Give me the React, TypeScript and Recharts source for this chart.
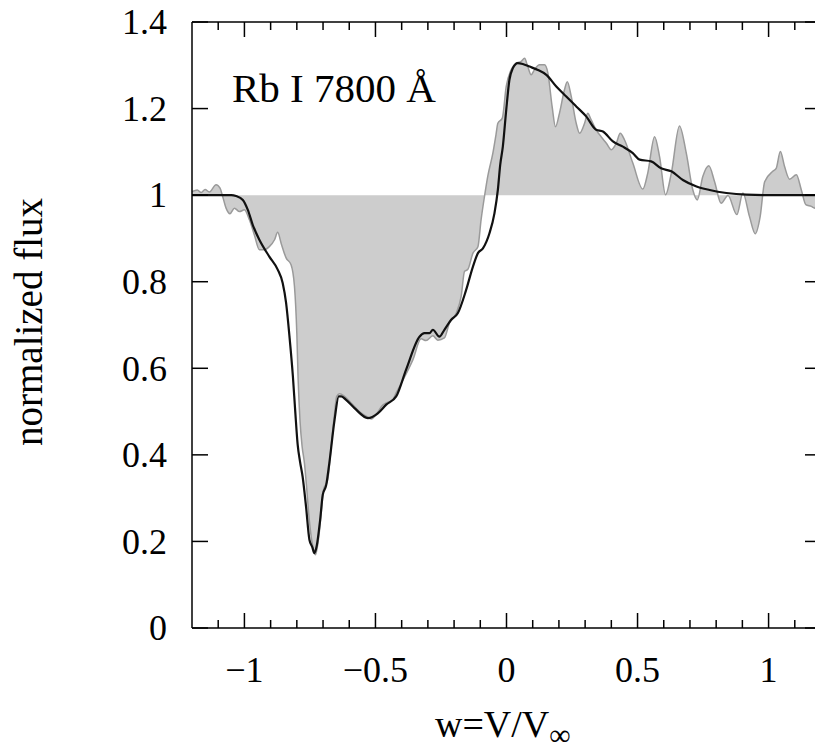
import { ComposedChart, Area, Line, XAxis, YAxis } from 'recharts';

// observed Rb I 7800 profile (w, normalized flux)
const observed = [
  { w: -1.2, f: 1.008 }, { w: -1.18, f: 1.012 }, { w: -1.165, f: 1.006 }, { w: -1.15, f: 1.013 },
  { w: -1.134, f: 1.007 }, { w: -1.108, f: 1.024 }, { w: -1.093, f: 1.016 }, { w: -1.083, f: 0.997 },
  { w: -1.07, f: 0.97 }, { w: -1.055, f: 0.957 }, { w: -1.038, f: 0.97 }, { w: -1.019, f: 0.962 },
  { w: -1.0, f: 0.966 }, { w: -0.981, f: 0.943 }, { w: -0.962, f: 0.908 }, { w: -0.943, f: 0.874 },
  { w: -0.924, f: 0.874 }, { w: -0.905, f: 0.881 }, { w: -0.885, f: 0.897 }, { w: -0.873, f: 0.914 },
  { w: -0.86, f: 0.889 }, { w: -0.841, f: 0.855 }, { w: -0.822, f: 0.839 }, { w: -0.809, f: 0.789 },
  { w: -0.8, f: 0.68 }, { w: -0.795, f: 0.574 }, { w: -0.788, f: 0.48 }, { w: -0.78, f: 0.42 },
  { w: -0.771, f: 0.381 }, { w: -0.762, f: 0.32 }, { w: -0.755, f: 0.266 }, { w: -0.745, f: 0.21 },
  { w: -0.739, f: 0.188 }, { w: -0.729, f: 0.169 }, { w: -0.716, f: 0.212 }, { w: -0.707, f: 0.266 },
  { w: -0.698, f: 0.319 }, { w: -0.682, f: 0.343 }, { w: -0.669, f: 0.419 }, { w: -0.656, f: 0.496 },
  { w: -0.648, f: 0.535 }, { w: -0.637, f: 0.541 }, { w: -0.618, f: 0.535 }, { w: -0.593, f: 0.52 },
  { w: -0.561, f: 0.5 }, { w: -0.529, f: 0.487 }, { w: -0.515, f: 0.483 }, { w: -0.497, f: 0.494 },
  { w: -0.472, f: 0.515 }, { w: -0.459, f: 0.52 }, { w: -0.434, f: 0.527 }, { w: -0.421, f: 0.543 },
  { w: -0.395, f: 0.573 }, { w: -0.357, f: 0.62 }, { w: -0.326, f: 0.668 }, { w: -0.307, f: 0.664 },
  { w: -0.281, f: 0.675 }, { w: -0.262, f: 0.665 }, { w: -0.237, f: 0.67 }, { w: -0.218, f: 0.704 },
  { w: -0.192, f: 0.727 }, { w: -0.173, f: 0.766 }, { w: -0.16, f: 0.824 }, { w: -0.148, f: 0.828 },
  { w: -0.128, f: 0.866 }, { w: -0.109, f: 0.881 }, { w: -0.097, f: 0.943 }, { w: -0.084, f: 0.997 },
  { w: -0.071, f: 1.045 }, { w: -0.052, f: 1.097 }, { w: -0.04, f: 1.14 }, { w: -0.033, f: 1.166 },
  { w: -0.016, f: 1.178 }, { w: -0.001, f: 1.251 }, { w: 0.018, f: 1.29 }, { w: 0.037, f: 1.305 },
  { w: 0.056, f: 1.309 }, { w: 0.069, f: 1.316 }, { w: 0.081, f: 1.297 }, { w: 0.094, f: 1.278 },
  { w: 0.107, f: 1.29 }, { w: 0.126, f: 1.301 }, { w: 0.145, f: 1.301 }, { w: 0.158, f: 1.282 },
  { w: 0.174, f: 1.205 }, { w: 0.187, f: 1.158 }, { w: 0.202, f: 1.189 }, { w: 0.221, f: 1.243 },
  { w: 0.232, f: 1.262 }, { w: 0.247, f: 1.228 }, { w: 0.266, f: 1.166 }, { w: 0.279, f: 1.143 },
  { w: 0.298, f: 1.166 }, { w: 0.31, f: 1.189 }, { w: 0.323, f: 1.174 }, { w: 0.342, f: 1.151 },
  { w: 0.361, f: 1.135 }, { w: 0.381, f: 1.12 }, { w: 0.4, f: 1.105 }, { w: 0.419, f: 1.12 },
  { w: 0.434, f: 1.143 }, { w: 0.45, f: 1.128 }, { w: 0.482, f: 1.074 }, { w: 0.52, f: 1.014 },
  { w: 0.539, f: 1.051 }, { w: 0.565, f: 1.135 }, { w: 0.584, f: 1.089 }, { w: 0.607, f: 1.001 },
  { w: 0.629, f: 1.051 }, { w: 0.66, f: 1.16 }, { w: 0.686, f: 1.097 }, { w: 0.711, f: 1.012 },
  { w: 0.728, f: 0.989 }, { w: 0.749, f: 1.043 }, { w: 0.772, f: 1.068 }, { w: 0.794, f: 1.031 },
  { w: 0.819, f: 0.981 }, { w: 0.845, f: 0.999 }, { w: 0.879, f: 0.955 }, { w: 0.902, f: 1.005 },
  { w: 0.927, f: 0.951 }, { w: 0.949, f: 0.911 }, { w: 0.968, f: 0.951 }, { w: 0.985, f: 1.031 },
  { w: 1.016, f: 1.055 }, { w: 1.029, f: 1.062 }, { w: 1.045, f: 1.101 }, { w: 1.061, f: 1.066 },
  { w: 1.08, f: 1.037 }, { w: 1.106, f: 1.047 }, { w: 1.125, f: 1.012 }, { w: 1.142, f: 0.978 },
  { w: 1.163, f: 0.974 }, { w: 1.176, f: 0.97 }, { w: 1.189, f: 0.989 }, { w: 1.2, f: 0.966 },
];

// model fit
const model = [
  { w: -1.2, f: 1.0 }, { w: -1.05, f: 1.0 }, { w: -1.032, f: 0.998 }, { w: -1.006, f: 0.989 },
  { w: -0.987, f: 0.966 }, { w: -0.968, f: 0.931 }, { w: -0.943, f: 0.897 }, { w: -0.905, f: 0.858 },
  { w: -0.873, f: 0.828 }, { w: -0.854, f: 0.797 }, { w: -0.841, f: 0.751 }, { w: -0.828, f: 0.673 },
  { w: -0.815, f: 0.581 }, { w: -0.806, f: 0.5 }, { w: -0.797, f: 0.425 }, { w: -0.788, f: 0.385 },
  { w: -0.778, f: 0.35 }, { w: -0.765, f: 0.281 }, { w: -0.752, f: 0.204 }, { w: -0.741, f: 0.187 },
  { w: -0.733, f: 0.173 }, { w: -0.724, f: 0.19 }, { w: -0.711, f: 0.25 }, { w: -0.701, f: 0.308 },
  { w: -0.688, f: 0.33 }, { w: -0.676, f: 0.381 }, { w: -0.656, f: 0.481 }, { w: -0.64, f: 0.535 },
  { w: -0.63, f: 0.535 }, { w: -0.612, f: 0.527 }, { w: -0.58, f: 0.508 }, { w: -0.529, f: 0.485 },
  { w: -0.491, f: 0.496 }, { w: -0.459, f: 0.516 }, { w: -0.421, f: 0.535 }, { w: -0.383, f: 0.597 },
  { w: -0.332, f: 0.673 }, { w: -0.313, f: 0.681 }, { w: -0.294, f: 0.681 }, { w: -0.281, f: 0.689 },
  { w: -0.256, f: 0.673 }, { w: -0.237, f: 0.689 }, { w: -0.211, f: 0.712 }, { w: -0.186, f: 0.727 },
  { w: -0.154, f: 0.781 }, { w: -0.128, f: 0.835 }, { w: -0.109, f: 0.866 }, { w: -0.09, f: 0.877 },
  { w: -0.065, f: 0.912 }, { w: -0.046, f: 0.958 }, { w: -0.033, f: 1.012 }, { w: -0.024, f: 1.07 },
  { w: -0.014, f: 1.112 }, { w: -0.001, f: 1.197 }, { w: 0.011, f: 1.266 }, { w: 0.024, f: 1.293 },
  { w: 0.043, f: 1.305 }, { w: 0.062, f: 1.303 }, { w: 0.088, f: 1.297 }, { w: 0.12, f: 1.289 },
  { w: 0.152, f: 1.278 }, { w: 0.19, f: 1.251 }, { w: 0.228, f: 1.228 }, { w: 0.266, f: 1.205 },
  { w: 0.304, f: 1.182 }, { w: 0.342, f: 1.151 }, { w: 0.368, f: 1.147 }, { w: 0.406, f: 1.124 },
  { w: 0.444, f: 1.112 }, { w: 0.482, f: 1.097 }, { w: 0.508, f: 1.082 }, { w: 0.552, f: 1.078 },
  { w: 0.59, f: 1.062 }, { w: 0.629, f: 1.055 }, { w: 0.673, f: 1.035 }, { w: 0.725, f: 1.02 },
  { w: 0.775, f: 1.012 }, { w: 0.839, f: 1.005 }, { w: 0.915, f: 1.001 }, { w: 1.0, f: 1.0 },
  { w: 1.2, f: 1.0 },
];

const xTicks = [
  -1.1, -1, -0.9, -0.8, -0.7, -0.6, -0.5, -0.4, -0.3, -0.2, -0.1, 0,
  0.1, 0.2, 0.3, 0.4, 0.5, 0.6, 0.7, 0.8, 0.9, 1, 1.1,
];
const xMajor = [-1, -0.5, 0, 0.5, 1];
const yTicks = [0, 0.2, 0.4, 0.6, 0.8, 1, 1.2, 1.4];

const serif = '"Liberation Serif", "Times New Roman", serif';

const fmt = (v: number) => String(Math.round(v * 10) / 10).replace('-', '\u2212');
const isMajor = (v: number) => xMajor.some((m) => Math.abs(m - v) < 1e-6);

const BottomTick = ({ x, y, payload }: any) => {
  const major = isMajor(payload.value);
  return (
    <g>
      <line x1={x} x2={x} y1={y} y2={y - (major ? 15 : 8)} stroke="#000" strokeWidth={1.5} />
      {major && (
        <text x={x} y={y + 54} textAnchor="middle" fontSize={36} fontFamily={serif} fill="#000">
          {fmt(payload.value)}
        </text>
      )}
    </g>
  );
};

const TopTick = ({ x, y, payload }: any) => {
  const major = isMajor(payload.value);
  return <line x1={x} x2={x} y1={y} y2={y + (major ? 15 : 8)} stroke="#000" strokeWidth={1.5} />;
};

const LeftTick = ({ x, y, payload }: any) => (
  <g>
    <line x1={x} x2={x + 16} y1={y} y2={y} stroke="#000" strokeWidth={1.5} />
    <text x={x - 25} y={y} dy="0.34em" textAnchor="end" fontSize={36} fontFamily={serif} fill="#000">
      {fmt(payload.value)}
    </text>
  </g>
);

const RightTick = ({ x, y }: any) => (
  <line x1={x} x2={x - 16} y1={y} y2={y} stroke="#000" strokeWidth={1.5} />
);

const axisLine = { stroke: '#000', strokeWidth: 1.5 };

export default function App() {
  return (
    <div style={{ margin: -8, width: 823, height: 750, position: 'relative', background: '#fff' }}>
      <ComposedChart width={823} height={750} margin={{ top: 12, right: 1, bottom: 62, left: 132 }}>
        <XAxis
          type="number"
          dataKey="w"
          domain={[-1.2, 1.2]}
          allowDataOverflow
          ticks={xTicks}
          interval={0}
          height={60}
          tickSize={0}
          tickMargin={0}
          tickLine={false}
          axisLine={axisLine}
          tick={<BottomTick />}
        />
        <XAxis
          xAxisId="top"
          orientation="top"
          type="number"
          dataKey="w"
          domain={[-1.2, 1.2]}
          allowDataOverflow
          ticks={xTicks}
          interval={0}
          height={10}
          tickSize={0}
          tickMargin={0}
          tickLine={false}
          axisLine={axisLine}
          tick={<TopTick />}
        />
        <YAxis
          type="number"
          domain={[0, 1.4]}
          allowDataOverflow
          ticks={yTicks}
          interval={0}
          width={60}
          tickSize={0}
          tickMargin={0}
          tickLine={false}
          axisLine={axisLine}
          tick={<LeftTick />}
        />
        <YAxis
          yAxisId="right"
          orientation="right"
          type="number"
          domain={[0, 1.4]}
          allowDataOverflow
          ticks={yTicks}
          interval={0}
          width={1}
          tickSize={0}
          tickMargin={0}
          tickLine={false}
          axisLine={axisLine}
          tick={<RightTick />}
        />
        <Area
          data={observed}
          dataKey="f"
          type="monotone"
          baseValue={1}
          stroke="#9a9a9a"
          strokeWidth={1.5}
          fill="#cdcdcd"
          fillOpacity={1}
          isAnimationActive={false}
          dot={false}
          activeDot={false}
        />
        <Line
          data={model}
          dataKey="f"
          type="monotone"
          stroke="#111"
          strokeWidth={2.2}
          dot={false}
          activeDot={false}
          isAnimationActive={false}
        />
      </ComposedChart>
      <svg
        width={823}
        height={750}
        style={{ position: 'absolute', left: 0, top: 0, pointerEvents: 'none' }}
        fontFamily={serif}
      >
        <text x={232} y={102} fontSize={41} fill="#000">
          Rb I 7800 Å
        </text>
        <text transform="translate(42,322) rotate(-90)" textAnchor="middle" fontSize={39} fill="#000">
          normalized flux
        </text>
        <text x={435} y={737} fontSize={38} fill="#000">
          w=V/V
          <tspan fontSize={30} dy={8}>
            ∞
          </tspan>
        </text>
      </svg>
    </div>
  );
}
